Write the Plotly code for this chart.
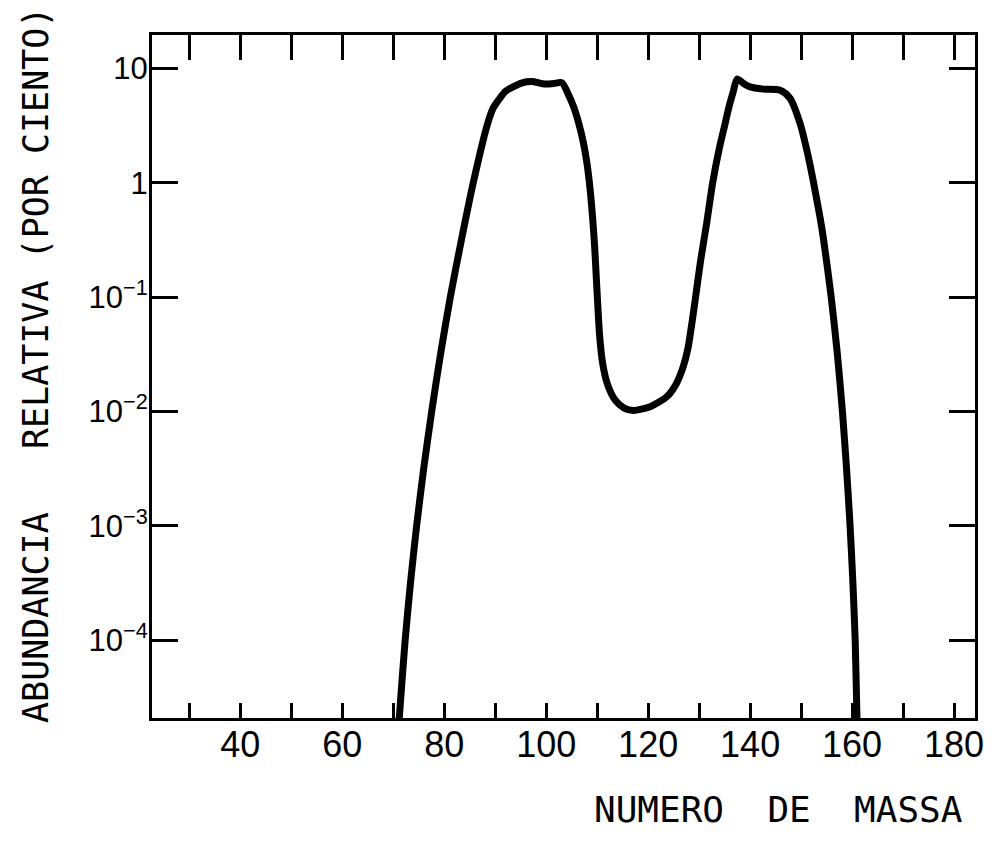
import plotly.graph_objects as go

# Mass number (numero de massa)
mass = [70.75, 71.2, 72.35, 73.4, 74.6, 76.0, 77.55, 79.3, 81.2, 83.4, 85.7,
        88.4, 89.6, 90.8, 92.0, 93.5, 95.3, 97.2, 99.0, 100.1, 101.5, 103.1,
        104.3, 105.4, 106.4, 107.3, 108.0, 108.6, 109.1, 109.5, 109.8, 110.1,
        110.5, 111.1, 112.0, 113.5, 115.3, 117.1, 120.4, 123.7, 125.5, 126.8,
        127.8, 128.6, 129.3, 130.3, 131.5, 132.65, 133.9, 135.0, 135.9, 136.7,
        137.45, 138.7, 140.0, 142.6, 145.9, 147.8, 149.8, 151.4, 152.45, 153.7,
        154.4, 155.9, 157.1, 158.1, 158.9, 159.6, 160.15, 160.6, 160.95, 161.15]
# Relative abundance (per cent)
abundance = [1.0e-5, 2.1e-5, 1.0e-4, 3.2e-4, 1.0e-3, 3.2e-3, 1.0e-2, 3.2e-2,
             0.10, 0.32, 1.0, 3.16, 4.5, 5.4, 6.3, 6.9, 7.5, 7.7, 7.4, 7.3,
             7.4, 7.5, 6.0, 4.6, 3.3, 2.24, 1.48, 0.89, 0.50, 0.28, 0.158,
             0.089, 0.045, 0.026, 0.0174, 0.0126, 0.0107, 0.0102, 0.011,
             0.0135, 0.0174, 0.024, 0.0355, 0.060, 0.10, 0.21, 0.45, 1.0, 1.95,
             3.16, 4.7, 6.3, 8.1, 7.4, 6.9, 6.6, 6.45, 5.5, 3.3, 1.7, 1.0, 0.50,
             0.32, 0.10, 0.032, 0.010, 3.2e-3, 1.0e-3, 3.2e-4, 1.0e-4, 2.1e-5,
             1.0e-5]

x_ticks = [40, 60, 80, 100, 120, 140, 160, 180]
x_labels = ["40", "60", "80", "100", "120", "140", "160", "180"]
x_minor_ticks = [30, 50, 70, 90, 110, 130, 150, 170]
x_all_ticks = [30, 40, 50, 60, 70, 80, 90, 100, 110, 120, 130, 140, 150, 160, 170, 180]
y_ticks = [10, 1, 0.1, 0.01, 0.001, 0.0001]
y_labels = ["10", "1", "10<sup>−1</sup>", "10<sup>−2</sup>", "10<sup>−3</sup>", "10<sup>−4</sup>"]
x_range = [22.7, 184.1]

TICKFONT = "Liberation Sans"
TITLEFONT = "DejaVu Sans Mono"

# the page body adds an 8 px offset; plot area in the page: x 152..975, y 35..718
OFF = 8
L, R, T, B = 152 - OFF, 24, 35 - OFF, 125
W, H = 999 - OFF, 843 - OFF
pw, ph = W - L - R, H - T - B
PX0, PY1 = 152, 718  # page coords of plot area left / bottom

fig = go.Figure()
fig.add_trace(go.Scatter(x=mass, y=abundance, mode="lines",
                         line=dict(color="black", width=7, shape="spline", smoothing=0.7),
                         hoverinfo="skip", showlegend=False))
# invisible trace carrying the top tick axis
fig.add_trace(go.Scatter(x=[x_range[0]], y=[1], xaxis="x2", mode="markers",
                         marker=dict(opacity=0), hoverinfo="skip", showlegend=False))

tick_common = dict(tickwidth=3, tickcolor="black", showgrid=False, zeroline=False,
                   automargin=False)

fig.update_layout(
    width=W, height=H,
    margin=dict(l=L, r=R, t=T, b=B, autoexpand=False),
    paper_bgcolor="white", plot_bgcolor="white",
    font=dict(family=TICKFONT, color="black", size=28),
    showlegend=False,
    xaxis=dict(range=x_range, tickvals=x_ticks, ticktext=x_labels,
               ticks="inside", ticklen=15,
               minor=dict(tickvals=x_minor_ticks, ticks="inside", ticklen=15,
                          tickwidth=3, tickcolor="black", showgrid=False),
               showline=True, linewidth=3, linecolor="black", mirror=True,
               tickfont=dict(family=TICKFONT, size=36), ticklabelstandoff=-7,
               **tick_common),
    xaxis2=dict(range=x_range, overlaying="x", side="top", tickvals=x_all_ticks,
                ticks="inside", ticklen=25, showticklabels=False, showline=False,
                **tick_common),
    yaxis=dict(type="log", range=[-4.682, 1.293], tickvals=y_ticks, ticktext=y_labels,
               ticks="inside", ticklen=26,
               showline=True, linewidth=3, linecolor="black", mirror="ticks",
               tickfont=dict(family=TICKFONT, size=31), ticklabelstandoff=-5,
               **tick_common),
    annotations=[
        dict(text="NUMERO  DE  MASSA", xref="paper", yref="paper",
             x=(965 - PX0) / pw, y=(PY1 - 810) / ph, xanchor="right", yanchor="middle",
             showarrow=False, font=dict(family=TITLEFONT, size=36)),
        dict(text="ABUNDANCIA   RELATIVA (POR CIENTO)", xref="paper", yref="paper",
             x=(36 - PX0) / pw, y=(PY1 - 365) / ph, xanchor="center", yanchor="middle",
             textangle=-90, showarrow=False, font=dict(family=TITLEFONT, size=35)),
    ],
)

fig.write_html("out.html")
